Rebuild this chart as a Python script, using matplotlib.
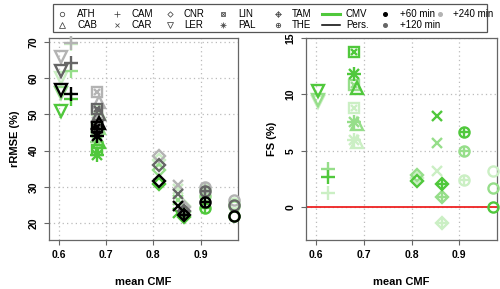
import matplotlib
matplotlib.use("Agg")
import matplotlib.pyplot as plt
from matplotlib.patches import Rectangle
import numpy as np

plt.rcParams['font.family'] = ['Liberation Sans', 'DejaVu Sans']

stations = ['ATH', 'CAB', 'CAM', 'CAR', 'CNR', 'LER', 'LIN', 'PAL', 'TAM', 'THE']
mean_cmf = [0.970, 0.685, 0.625, 0.853, 0.812, 0.605, 0.680, 0.680, 0.864, 0.909]

horizons = ['+60 min', '+120 min', '+240 min']

rrmse_pers_60 = [22.0, 47.5, 55.6, 24.7, 31.6, 56.7, 46.5, 44.0, 22.1, 25.8]
rrmse_pers_120 = [25.0, 50.0, 64.2, 28.0, 35.9, 62.0, 51.5, 46.0, 23.3, 28.9]
rrmse_pers_240 = [26.3, 53.4, 69.7, 30.5, 38.4, 65.9, 56.2, 48.0, 24.4, 30.0]
rrmse_cmv_60 = [22.0, 42.4, 54.2, 22.7, 30.9, 50.8, 40.1, 38.8, 21.6, 24.1]
rrmse_cmv_120 = [24.6, 46.3, 62.0, 26.4, 34.6, 56.0, 45.9, 42.5, 23.1, 27.5]
rrmse_cmv_240 = [25.5, 50.3, 69.5, 29.5, 37.4, 60.0, 51.3, 45.1, 24.8, 29.3]

fs_60 = [0.0, 10.6, 2.7, 8.1, 2.3, 10.3, 13.8, 11.8, 2.1, 6.7]
fs_120 = [1.7, 7.4, 3.4, 5.7, 2.9, 9.5, 10.8, 7.6, 0.9, 5.0]
fs_240 = [3.2, 5.8, 1.3, 3.2, 2.6, 9.3, 8.8, 6.0, -1.4, 2.4]

GREEN = np.array([0x50, 0xC8, 0x3C]) / 255.0
BLACK = np.array([0.0, 0.0, 0.0])
ALPHAS = [1.0, 0.6, 0.3]


def blend(c, a):
    return tuple(c * a + (1 - a) * np.ones(3))


SPECS = {
    'ATH': [('o', 1.0)],
    'CAB': [('^', 1.25)],
    'CAM': [('+', 1.45)],
    'CAR': [('x', 1.05)],
    'CNR': [('D', 0.85)],
    'LER': [('v', 1.25)],
    'LIN': [('s', 1.0), ('x', 0.6)],
    'PAL': [('+', 1.3), ('x', 0.95)],
    'TAM': [('D', 0.85), ('+', 1.2)],
    'THE': [('o', 1.0), ('+', 1.0)],
}


def draw(ax, x, y, st, color, ms=7.3, mew=1.7, z=3):
    for m, s in SPECS[st]:
        ax.plot([x], [y], linestyle='none', marker=m, markersize=ms * s,
                markerfacecolor='none', markeredgecolor=color,
                markeredgewidth=mew, zorder=z, clip_on=False)


fig = plt.figure(figsize=(5.0, 2.89), dpi=100)
W, H = 500.0, 289.0
axL = fig.add_axes([49 / W, 1 - 240 / H, (238 - 49) / W, (240 - 38) / H])
axR = fig.add_axes([306 / W, 1 - 240 / H, (497 - 306) / W, (240 - 38) / H])

AXC = '#666666'
for ax in (axL, axR):
    ax.set_xlim(0.579, 0.979)
    ax.set_xticks([0.6, 0.7, 0.8, 0.9])
    ax.set_xticklabels(['0.6', '0.7', '0.8', '0.9'], fontsize=7.5, fontweight='bold')
    ax.grid(True, linestyle=(0, (1, 2.5)), color='#BBBBBB', linewidth=0.9)
    ax.set_axisbelow(True)
    for sp in ax.spines.values():
        sp.set_color(AXC)
        sp.set_linewidth(0.9)
    ax.tick_params(colors=AXC, length=3.5, width=0.8, labelcolor='black', pad=4)
    ax.set_xlabel('mean CMF', fontsize=8, fontweight='bold', labelpad=12)

axL.set_ylim(15.3, 71.1)
axL.set_yticks([20, 30, 40, 50, 60, 70])
axL.set_yticklabels(['20', '30', '40', '50', '60', '70'], fontsize=7.5,
                    fontweight='bold', rotation=90, va='center')
axL.set_ylabel('rRMSE (%)', fontsize=8, fontweight='bold', labelpad=6)

axR.set_ylim(-2.9, 15.0)
axR.set_yticks([0, 5, 10, 15])
axR.set_yticklabels(['0', '5', '10', '15'], fontsize=7.5,
                    fontweight='bold', rotation=90, va='center')
axR.set_ylabel('FS (%)', fontsize=8, fontweight='bold', labelpad=6)
axR.axhline(0, color='#EE2222', linewidth=1.3, zorder=2)

pers = [rrmse_pers_240, rrmse_pers_120, rrmse_pers_60]
cmv = [rrmse_cmv_240, rrmse_cmv_120, rrmse_cmv_60]
fss = [fs_240, fs_120, fs_60]
alph = [ALPHAS[2], ALPHAS[1], ALPHAS[0]]

for k in range(3):
    for i, st in enumerate(stations):
        draw(axL, mean_cmf[i], cmv[k][i], st, blend(GREEN, alph[k]), z=3 + k)
for k in range(3):
    for i, st in enumerate(stations):
        draw(axL, mean_cmf[i], pers[k][i], st, blend(BLACK, alph[k]), z=6 + k)
for k in range(3):
    for i, st in enumerate(stations):
        draw(axR, mean_cmf[i], fss[k][i], st, blend(GREEN, alph[k]), z=3 + k)

# legend
lg = fig.add_axes([0, 0, 1, 1], zorder=20)
lg.set_xlim(0, W)
lg.set_ylim(H, 0)
lg.axis('off')
lg.add_patch(Rectangle((53, 4), 487 - 53, 28, facecolor='white',
                       edgecolor='#555555', linewidth=0.9))
rows = [14, 24.5]
cols = [(62, 77), (117, 131), (170, 184), (223, 238), (278, 292)]
LFS = 7
for j, st in enumerate(stations):
    c = j // 2
    r = j % 2
    sx, tx = cols[c]
    draw(lg, sx, rows[r], st, '#444444', ms=3.2, mew=0.55, z=21)
    lg.text(tx, rows[r], st, fontsize=LFS, va='center', ha='left')

lg.plot([322, 340], [rows[0], rows[0]], color=tuple(GREEN), linewidth=2.2)
lg.text(346, rows[0], 'CMV', fontsize=LFS, va='center')
lg.plot([322, 340], [rows[1], rows[1]], color='black', linewidth=1.1)
lg.text(346, rows[1], 'Pers.', fontsize=LFS, va='center')

hpos = [(385, 400, rows[0]), (385, 400, rows[1]), (440, 453, rows[0])]
for (sx, tx, ry), lab, a in zip(hpos, horizons, ALPHAS):
    lg.plot([sx], [ry], marker='o', markersize=2.6, color=blend(BLACK, a),
            linestyle='none')
    lg.text(tx, ry, lab, fontsize=LFS, va='center')

fig.savefig('out.png', dpi=100)
